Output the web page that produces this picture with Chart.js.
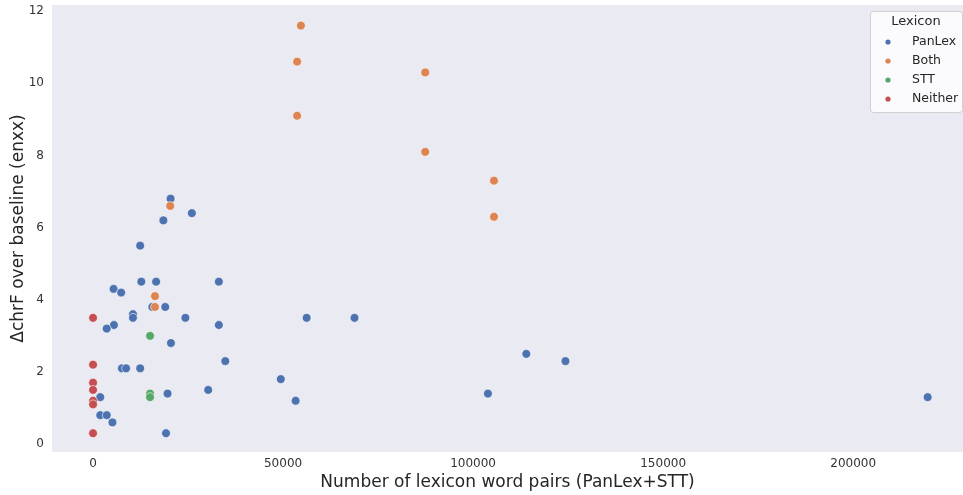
<!DOCTYPE html>
<html>
<head>
<meta charset="utf-8">
<script src="https://cdn.jsdelivr.net/npm/chart.js@4.4.0/dist/chart.umd.min.js"></script>
<style>
  html, body { margin: 0; padding: 0; background: #fff; }
  #wrap { width: 963px; height: 495px; }
</style>
</head>
<body>
<div id="wrap"><canvas id="lexChart" width="963" height="495"></canvas></div>
<script>
// word pairs (x) and chrF gain (y), one pair of arrays per legend group
const panlexX = [20400, 26000, 18500, 12400, 12700, 16600, 33100, 5400, 7400, 15600, 19000, 10500, 10500, 24300,
                 5500, 3600, 33100, 20500, 34800, 7600, 8700, 12400, 30300, 19600, 1900, 1900, 3600, 5100, 19200,
                 56200, 68800, 49400, 53300, 103900, 114000, 124300, 219600];
const panlexY = [6.8, 6.4, 6.2, 5.5, 4.5, 4.5, 4.5, 4.3, 4.2, 3.8, 3.8, 3.6, 3.5, 3.5,
                 3.3, 3.2, 3.3, 2.8, 2.3, 2.1, 2.1, 2.1, 1.5, 1.4, 1.3, 0.8, 0.8, 0.6, 0.3,
                 3.5, 3.5, 1.8, 1.2, 1.4, 2.5, 2.3, 1.3];
const bothX = [54700, 53700, 53700, 87400, 87400, 105500, 105500, 20300, 16300, 16300];
const bothY = [11.6, 10.6, 9.1, 10.3, 8.1, 7.3, 6.3, 6.6, 4.1, 3.8];
const sttX = [15000, 15000, 15000];
const sttY = [3.0, 1.4, 1.3];
const neitherX = [0, 0, 0, 0, 0, 0, 0];
const neitherY = [3.5, 2.2, 1.7, 1.5, 1.2, 1.1, 0.3];

const xTicks = [0, 50000, 100000, 150000, 200000];
const yTicks = [0, 2, 4, 6, 8, 10, 12];

const groups = [
    { label: 'PanLex', xs: panlexX, ys: panlexY, color: '#4c72b0', order: 3 },
    { label: 'Both', xs: bothX, ys: bothY, color: '#dd8452', order: 0 },
    { label: 'STT', xs: sttX, ys: sttY, color: '#55a868', order: 1 },
    { label: 'Neither', xs: neitherX, ys: neitherY, color: '#c44e52', order: 2 }
];

const toPoints = (xs, ys) => xs.map((x, i) => ({ x: x, y: ys[i] }));

// grey plot background
const plotBg = {
    id: 'plotBg',
    beforeDraw(chart) {
        const { ctx, chartArea: a } = chart;
        ctx.save();
        ctx.fillStyle = '#eaeaf2';
        ctx.fillRect(a.left, a.top, a.right - a.left, a.bottom - a.top);
        ctx.restore();
    }
};

// seaborn style legend box in the top right corner
const lexLegend = {
    id: 'lexLegend',
    afterDraw(chart) {
        const ctx = chart.ctx;
        const bx = 870, by = 11, bw = 92, bh = 101;
        ctx.save();
        ctx.fillStyle = 'rgba(255,255,255,0.8)';
        ctx.strokeStyle = '#d0d0d0';
        ctx.lineWidth = 1;
        ctx.beginPath();
        ctx.roundRect(bx + 0.5, by + 0.5, bw, bh, 3);
        ctx.fill();
        ctx.stroke();
        ctx.font = '13px "DejaVu Sans"';
        ctx.fillStyle = '#262626';
        ctx.textBaseline = 'middle';
        ctx.textAlign = 'center';
        ctx.fillText('Lexicon', 916, 22);
        ctx.textAlign = 'left';
        ctx.font = '12.5px "DejaVu Sans"';
        groups.forEach((g, i) => {
            const y = 42 + i * 19;
            ctx.fillStyle = g.color;
            ctx.beginPath();
            ctx.arc(888, y, 2.6, 0, Math.PI * 2);
            ctx.fill();
            ctx.fillStyle = '#262626';
            ctx.fillText(g.label, 912, y);
        });
        ctx.restore();
    }
};

const ctx = document.getElementById('lexChart').getContext('2d');
const lexChart = new Chart(ctx, {
    type: 'scatter',
    data: {
        datasets: groups.map(g => ({
            label: g.label,
            data: toPoints(g.xs, g.ys),
            order: g.order,
            backgroundColor: g.color,
            borderColor: '#ffffff',
            borderWidth: 0.6,
            pointRadius: 4.4,
            pointHoverRadius: 4.4
        }))
    },
    options: {
        responsive: false,
        animation: false,
        events: [],
        layout: {
            autoPadding: false,
            padding: { top: 5, right: 0, left: 0, bottom: 0 }
        },
        plugins: {
            legend: { display: false },
            tooltip: { enabled: false }
        },
        scales: {
            x: {
                type: 'linear',
                min: -10800,
                max: 228900,
                grid: { display: false, drawTicks: false },
                border: { display: false },
                afterBuildTicks: s => { s.ticks = xTicks.map(v => ({ value: v })); },
                afterFit: s => { s.height = 43; s.paddingLeft = 0; s.paddingRight = 0; },
                ticks: {
                    padding: 5,
                    color: '#333333',
                    font: { family: 'DejaVu Sans', size: 12 },
                    callback: v => String(v)
                },
                title: {
                    display: true,
                    text: 'Number of lexicon word pairs (PanLex+STT)',
                    color: '#262626',
                    font: { family: 'DejaVu Sans', size: 17 },
                    padding: { top: 0, bottom: 2 }
                }
            },
            y: {
                type: 'linear',
                min: -0.22,
                max: 12.17,
                grid: { display: false, drawTicks: false },
                border: { display: false },
                afterBuildTicks: s => { s.ticks = yTicks.map(v => ({ value: v })); },
                afterFit: s => { s.width = 52; s.paddingTop = 0; s.paddingBottom = 0; },
                ticks: {
                    padding: 8,
                    color: '#333333',
                    font: { family: 'DejaVu Sans', size: 12 },
                    callback: v => String(v)
                },
                title: {
                    display: true,
                    text: 'ΔchrF over baseline (enxx)',
                    color: '#262626',
                    font: { family: 'DejaVu Sans', size: 17 },
                    padding: { top: 8, bottom: 0 }
                }
            }
        }
    },
    plugins: [plotBg, lexLegend]
});
</script>
</body>
</html>
